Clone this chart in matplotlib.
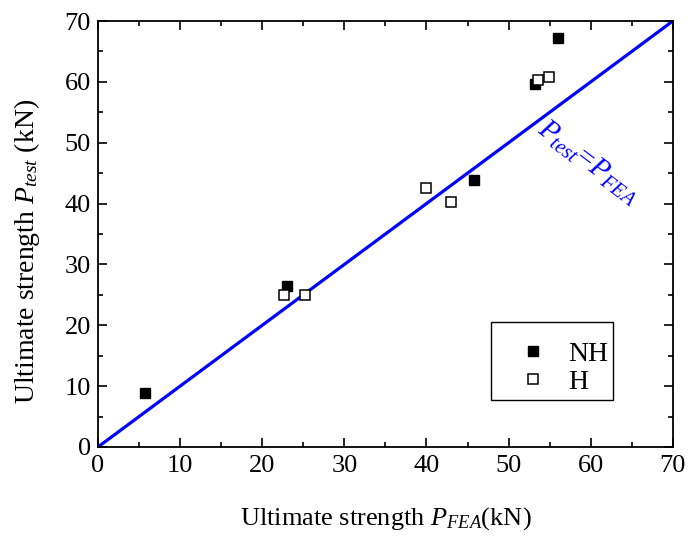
import numpy as np
import matplotlib.pyplot as plt
from matplotlib.ticker import MultipleLocator
from matplotlib.patches import Rectangle

plt.rcParams['font.family'] = 'Liberation Serif'
plt.rcParams['mathtext.fontset'] = 'custom'
plt.rcParams['mathtext.rm'] = 'Liberation Serif'
plt.rcParams['mathtext.it'] = 'Liberation Serif:italic'

# data
nh_fea = [5.7, 23.0, 45.8, 53.2, 56.0]
nh_test = [8.8, 26.5, 43.8, 59.6, 67.2]
h_fea = [22.6, 25.2, 39.9, 43.0, 53.6, 54.9]
h_test = [25.0, 25.0, 42.6, 40.3, 60.3, 60.8]
diag = [0, 70]

fig = plt.figure(figsize=(6.88, 5.39), dpi=100)
ax = fig.add_axes([0.1424, 0.1707, 0.8356, 0.7903])

ax.plot(diag, diag, color='#0000ff', lw=2.3, zorder=2)
ax.plot(nh_fea, nh_test, 's', color='black', ms=7, mec='black', label='NH', zorder=3)
ax.plot(h_fea, h_test, 's', mfc='white', mec='black', mew=1.1, ms=7, label='H', zorder=3)

ax.set_xlim(0, 70)
ax.set_ylim(0, 70)
ax.xaxis.set_major_locator(MultipleLocator(10))
ax.yaxis.set_major_locator(MultipleLocator(10))
ax.xaxis.set_minor_locator(MultipleLocator(5))
ax.yaxis.set_minor_locator(MultipleLocator(5))
ax.tick_params(which='both', direction='in', top=True, right=True, width=1.2, labelsize=19)
ax.tick_params(which='major', length=6.5)
ax.tick_params(which='minor', length=3.5)
ax.tick_params(axis='x', pad=6)
ax.tick_params(axis='y', pad=5)
for s in ax.spines.values():
    s.set_linewidth(1.3)

ax.set_xlabel(r'Ultimate strength $P_{FEA}$(kN)', fontsize=19, labelpad=20)
ax.set_ylabel(r'Ultimate strength $P_{test}$ (kN)', fontsize=20)
ax.yaxis.set_label_coords(-0.098, 0.46)

ax.text(59.7, 46.8, r'$P_{test}$=$P_{FEA}$', color='#0000ff', fontsize=21,
        rotation=-37, ha='center', va='center', rotation_mode='anchor')

# legend box drawn separately so the padding matches
ax.add_patch(Rectangle((0.6835, 0.1103), 0.2122, 0.1831, transform=ax.transAxes,
                       fill=False, edgecolor='black', lw=1.0, zorder=4))
ax.legend(loc='center', bbox_to_anchor=(0.8096, 0.1854), fontsize=20, frameon=False,
          borderpad=0, handlelength=1.0, handletextpad=0.75, labelspacing=0.1)

fig.savefig('out.png', dpi=100)
